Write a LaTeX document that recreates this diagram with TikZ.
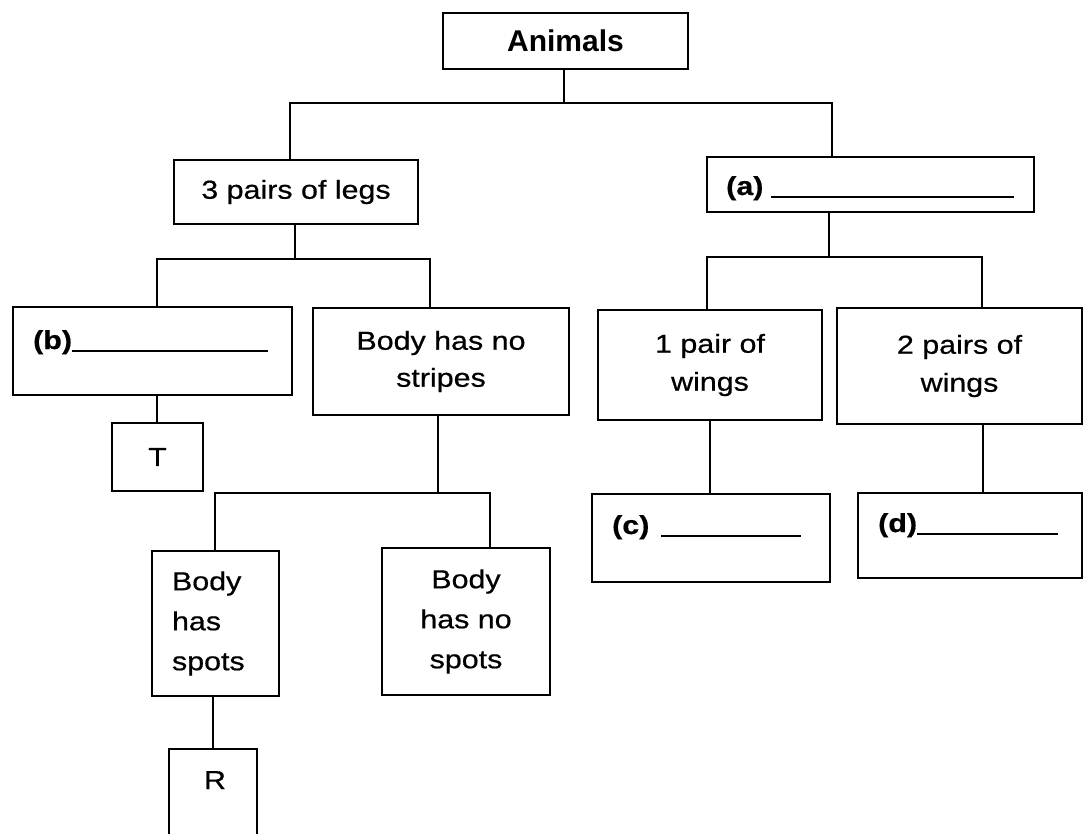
\documentclass[tikz,border=0pt]{standalone}
\usepackage{fontspec}
\setmainfont[FakeStretch=1.17, FakeBold=0.6]{Liberation Sans}
\newfontfamily\titlefont{Liberation Sans}
\begin{document}
\begin{tikzpicture}[x=1pt,y=-1pt,
  box/.style={draw, line width=2.6pt, rectangle, inner sep=0pt, align=center,
              font=\fontsize{26}{38}\selectfont},
  link/.style={line width=1.8pt},
  txt/.style={inner sep=0pt, font=\fontsize{26}{38}\selectfont}]
\clip (0,0) rectangle (1083,833);
\fill[white] (0,0) rectangle (1083,833);

% top level
\node[box, minimum width=245pt, minimum height=56pt,
      font=\titlefont\bfseries\fontsize{30}{36}\selectfont] (animals) at (565.5,41) {Animals};

% second level
\node[box, minimum width=244pt, minimum height=64pt] (legs) at (296,192) {3 pairs of legs};
\node[box, minimum width=327pt, minimum height=55pt] (boxa) at (870.5,184.5) {};
\node[txt, anchor=base west] (labela) at (726,195) {\textbf{(a)}\hspace{8pt}\rule[-3pt]{243pt}{1.8pt}};

% insects branch
\node[box, minimum width=279pt, minimum height=88pt] (boxb) at (152.5,351) {};
\node[txt, anchor=base west] (labelb) at (33,349) {\textbf{(b)}\rule[-3pt]{196pt}{1.8pt}};
\node[box, minimum width=256pt, minimum height=107pt,
      font=\fontsize{26}{37}\selectfont] (stripes) at (441,361.5) {Body has no\\stripes};
\node[box, minimum width=91pt, minimum height=68pt] (tbox) at (157.5,457) {T};
\node[box, minimum width=127pt, minimum height=145pt, text width=87pt, align=left,
      font=\fontsize{26}{40}\selectfont] (spots) at (215.5,623.5) {Body\\has\\spots};
\node[box, minimum width=168pt, minimum height=147pt,
      font=\fontsize{26}{40}\selectfont] (nospots) at (466,621.5) {Body\\has no\\spots};
\node[box, minimum width=88pt, minimum height=100pt] (rbox) at (213,799) {};
\node[txt, anchor=base] (rlabel) at (215,789) {R};

% wings branch
\node[box, minimum width=224pt, minimum height=110pt] (onewing) at (710,365) {1 pair of\\wings};
\node[box, minimum width=245pt, minimum height=116pt] (twowing) at (959.5,366) {2 pairs of\\wings};
\node[box, minimum width=238pt, minimum height=88pt] (boxc) at (711,538) {};
\node[txt, anchor=base west] (labelc) at (612,534) {\textbf{(c)}\hspace{12pt}\rule[-3pt]{140pt}{1.8pt}};
\node[box, minimum width=224pt, minimum height=85pt] (boxd) at (970,535.5) {};
\node[txt, anchor=base west] (labeld) at (878,532) {\textbf{(d)}\rule[-3pt]{141pt}{1.8pt}};

% connectors
\draw[link] (animals.south -| 564,0) -- (564,103) coordinate (j1);
\draw[link] (legs.north -| 290,0) |- (j1) -| (boxa.north -| 832,0);
\draw[link] (legs.south -| 295,0) -- (295,259) coordinate (j2);
\draw[link] (boxb.north -| 157,0) |- (j2) -| (stripes.north -| 430,0);
\draw[link] (boxb.south -| 157,0) -- (tbox.north -| 157,0);
\draw[link] (stripes.south -| 438,0) -- (438,493) coordinate (j3);
\draw[link] (spots.north -| 215,0) |- (j3) -| (nospots.north -| 490,0);
\draw[link] (spots.south -| 213,0) -- (rbox.north -| 213,0);
\draw[link] (boxa.south -| 829,0) -- (829,257) coordinate (j4);
\draw[link] (onewing.north -| 707,0) |- (j4) -| (twowing.north -| 982,0);
\draw[link] (onewing.south -| 710,0) -- (boxc.north -| 710,0);
\draw[link] (twowing.south -| 983,0) -- (boxd.north -| 983,0);
\end{tikzpicture}
\end{document}
